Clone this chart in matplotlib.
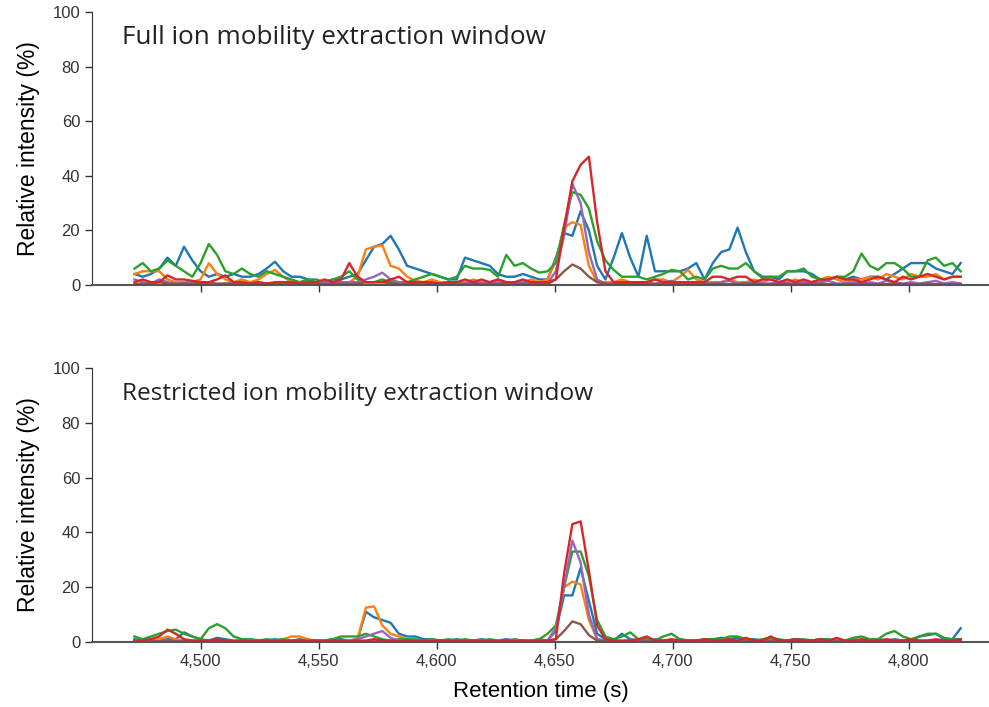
import numpy as np
import matplotlib
matplotlib.use('Agg')
import matplotlib.pyplot as plt

# retention time grid (s), one scan every 3.5 s
t = np.arange(4472, 4822.1, 3.5)

# ---- full ion mobility extraction window (top) ----
top_blue = [4, 3, 4, 6, 10, 7, 14, 9, 5, 3, 4, 3, 4, 3, 3, 4, 6, 8.5, 5, 3,
            3, 2, 1, 1, 2, 2, 3, 4, 9, 14, 15, 18, 13, 7, 6, 5, 4, 3, 2, 2,
            10, 9, 8, 7, 4, 3, 3, 4, 3, 2, 2, 10, 19, 18, 27, 20, 7, 2, 10, 19,
            10, 3, 18, 5, 5, 5, 5, 6, 8, 2, 8, 12, 13, 21, 12, 5, 3, 3, 2, 5,
            5, 5, 4, 2, 2, 3, 2, 3, 2, 3, 3, 2, 4, 6, 8, 8, 8, 6, 5, 4, 8]
top_orange = [4, 5, 5, 5, 2, 1, 1, 1, 2, 8, 4, 2, 1, 2, 1, 2, 4, 5.5, 3, 1,
              1, 1, 1, 0.5, 1, 1, 1, 3, 13, 14, 14.5, 7, 6, 3, 1.5, 1, 2, 1, 1, 1,
              1, 2, 1, 1, 2, 1, 1, 1, 2, 1, 2, 9, 21, 23, 22, 7, 1, 1, 1, 2,
              1, 1, 1, 2, 2, 1, 3, 5.5, 2, 1, 1, 1, 2, 1, 1, 2, 1, 2, 1, 1,
              2, 1, 1, 2, 3, 2, 1, 2, 2, 3, 2, 4, 3, 2, 4, 3, 3, 4, 2, 3, 3]
top_green = [6, 8, 5, 6, 9, 7, 5, 3, 8, 15, 11, 5, 4, 6, 4, 3, 5, 4, 3, 2,
             1, 2, 2, 1, 2, 3, 5, 2, 1, 1, 2, 1, 1, 1, 2, 3, 4, 3, 2, 3,
             7, 6, 6, 5.5, 3, 11, 7, 8, 6, 4.5, 5, 8, 22, 34, 33, 28, 16, 9, 5.5, 3,
             3, 3, 2, 3, 4, 5.5, 5, 2, 3, 2, 6, 7, 6, 6, 8, 5, 2.5, 3, 3, 5,
             5, 6, 3, 2, 2, 3, 3, 5, 11.5, 7, 5.5, 8, 8, 6, 3, 3, 9, 10, 7, 8, 5]
top_red = [1, 2, 1, 1, 3.5, 2, 2, 1.5, 1, 1, 2, 3.5, 1, 1, 0.5, 1, 0.5, 1, 1, 1,
           0.5, 1, 1, 2, 1, 2, 8, 3, 1, 1, 1, 2, 3, 1, 1, 1, 1, 0.5, 1, 1,
           2, 1, 2, 1, 2, 1, 1, 2, 1, 1, 1, 2, 21, 38, 44, 47, 23, 5, 1, 1,
           1, 1, 1, 2, 1, 1, 1, 1, 1, 1, 3, 3, 2, 3, 3, 1, 2, 2, 1, 2,
           1, 2, 1, 2, 2, 3, 2, 2, 1, 2, 3, 2, 1, 3, 2, 3, 4, 3, 2, 3, 3]
top_purple = [2, 1, 0.5, 2, 1, 0.5, 0.5, 1, 0.5, 1, 0.5, 0.5, 1, 0.5, 0.5, 1, 0.5, 0.5, 1, 0.5,
              0.5, 0.5, 0.5, 0.5, 1, 1, 1, 1, 2, 3, 4.5, 2, 1, 0.5, 0.5, 1, 0.5, 0.5, 1, 0.5,
              0.5, 1, 0.5, 0.5, 1, 0.5, 0.5, 1, 0.5, 0.5, 0.5, 5, 18, 37, 30, 12, 2, 0.5, 0.5, 1,
              0.5, 0.5, 1, 0.5, 1, 1.5, 0.5, 0.5, 1, 0.5, 0.5, 1, 1.5, 0.5, 0.5, 1, 0.5, 0.5, 1, 0.5,
              0.5, 1, 0.5, 1, 1.5, 0.5, 0.5, 1, 0.5, 1, 0.5, 1.5, 1, 0.5, 1, 0.5, 1, 1.5, 0.5, 1, 0.5]
top_brown = [0.5, 0.3, 0.5, 1, 0.5, 0.3, 0.5, 0.3, 0.5, 0.5, 0.3, 0.5, 0.3, 0.5, 0.3, 0.3, 0.5, 0.3, 0.3, 0.5,
             0.3, 0.3, 0.5, 0.3, 0.3, 0.5, 0.3, 0.5, 1, 1, 1, 0.5, 0.3, 0.3, 0.5, 0.3, 0.3, 0.3, 0.5, 0.3,
             0.3, 0.5, 0.3, 0.3, 0.3, 0.5, 0.3, 0.3, 0.3, 0.5, 0.3, 2, 5, 7.5, 6, 3, 1, 0.5, 0.3, 0.3,
             0.3, 0.5, 0.3, 0.3, 0.3, 0.5, 0.3, 0.3, 0.3, 0.3, 0.5, 0.3, 0.3, 0.3, 0.5, 0.3, 0.3, 0.3, 0.3, 0.5,
             0.3, 0.3, 0.3, 0.5, 0.3, 0.3, 0.3, 0.3, 0.5, 0.3, 0.3, 0.3, 0.5, 0.3, 0.3, 0.3, 0.5, 0.3, 0.3, 0.3, 0.3]

# ---- restricted ion mobility extraction window (bottom) ----
bot_blue = [1, 0.5, 1, 0.5, 1, 1, 3.5, 2, 1, 0.5, 1.5, 1, 0.5, 0.5, 1, 0.5, 0.5, 1, 0.5, 0.5,
            1, 0.5, 0.5, 0.5, 1, 1, 0.5, 1, 11, 9, 8, 7, 3, 2, 2, 1, 1, 0.5, 0.5, 1,
            0.5, 0.5, 1, 0.5, 0.5, 1, 0.5, 0.5, 0.5, 1, 0.5, 4, 17, 17, 27, 15, 3, 1, 0.5, 3,
            1, 0.5, 0.5, 1, 0.5, 0.5, 1, 0.5, 0.5, 0.5, 1, 1.5, 1, 1.5, 1, 1, 0.5, 1, 0.5, 0.5,
            1, 0.5, 0.5, 1, 0.5, 0.5, 0.5, 1, 0.5, 0.5, 1, 0.5, 1, 0.5, 0.5, 2, 2.5, 3, 1, 1, 5]
bot_orange = [0.5, 0.3, 0.5, 1, 2, 1, 0.5, 0.3, 0.5, 0.3, 0.5, 0.3, 0.3, 0.5, 0.3, 0.5, 0.3, 0.5, 1, 2,
              2, 1, 0.5, 0.3, 0.5, 0.3, 0.5, 1, 12.5, 13, 6, 3, 2, 1, 0.5, 0.5, 0.3, 0.5, 0.3, 0.5,
              0.3, 0.5, 0.3, 0.3, 0.5, 0.3, 0.5, 0.3, 0.3, 0.5, 0.3, 5, 20, 22, 21, 8, 1, 0.5, 0.5, 0.3,
              0.5, 1, 0.5, 0.3, 0.5, 0.3, 0.5, 0.3, 0.5, 0.3, 0.5, 0.3, 0.5, 0.3, 0.5, 0.5, 0.3, 0.5, 0.3, 0.5,
              0.3, 0.5, 0.3, 0.5, 0.3, 0.5, 0.3, 0.5, 0.3, 0.5, 0.3, 0.5, 0.3, 0.5, 0.3, 0.5, 0.3, 0.5, 0.3, 0.5, 0.5]
bot_green = [2, 1, 2, 3, 4, 4.5, 3, 2, 1, 5, 6.5, 5, 2, 1, 1, 0.5, 1, 0.5, 1, 0.5,
             0.5, 0.5, 0.5, 0.5, 1, 2, 2, 2, 3, 2, 1, 0.5, 1, 1, 1, 0.5, 1, 0.5, 1, 0.5,
             1, 0.5, 0.5, 1, 0.5, 0.5, 1, 0.5, 0.5, 1, 3, 6, 20, 33, 33, 24, 8, 2, 1, 2,
             3.5, 1, 1, 0.5, 2, 3, 1, 0.5, 0.5, 1, 1, 1, 2, 2, 1, 0.5, 1, 1.5, 1, 0.5,
             1, 1, 0.5, 1, 1, 0.5, 0.5, 1.5, 2, 1, 1, 3, 4, 2, 1, 2, 3, 3, 1.5, 1, 1]
bot_red = [0.5, 0.5, 1, 2, 4.5, 3, 1, 0.5, 0.5, 0.5, 1, 0.5, 0.3, 0.5, 0.3, 0.5, 0.5, 0.3, 0.5, 0.3,
           0.5, 0.3, 0.5, 0.3, 0.5, 0.5, 0.3, 0.5, 0.5, 1, 0.5, 0.5, 0.3, 0.5, 0.3, 0.5, 0.3, 0.5, 0.3, 0.5,
           0.3, 0.5, 0.3, 0.5, 0.3, 0.5, 0.3, 0.5, 0.3, 0.5, 0.5, 1, 25, 43, 44, 26, 6, 1, 0.5, 0.5,
           0.5, 1, 2, 0.5, 0.5, 1, 0.5, 0.5, 0.5, 1, 0.5, 0.5, 1, 0.5, 1.5, 0.5, 0.5, 2, 0.5, 0.5,
           1, 0.5, 0.5, 1, 0.5, 1.5, 0.5, 0.5, 1, 0.5, 0.5, 1, 0.5, 0.5, 1, 0.5, 0.5, 1, 0.5, 0.5, 1]
bot_purple = [0.3, 0.5, 0.3, 0.3, 0.5, 0.3, 0.3, 0.5, 0.3, 0.3, 0.5, 0.3, 0.3, 0.3, 0.5, 0.3, 0.3, 0.3, 0.5, 0.3,
              0.3, 0.3, 0.5, 0.3, 0.3, 0.5, 0.5, 1, 2, 3, 4, 1.5, 0.5, 0.3, 0.3, 0.5, 0.3, 0.3, 0.3, 0.5,
              0.3, 0.3, 0.5, 0.3, 0.3, 0.3, 0.5, 0.3, 0.3, 0.3, 0.5, 5, 20, 37, 29, 10, 1, 0.5, 0.3, 0.3,
              0.5, 0.3, 0.3, 0.3, 0.5, 0.3, 0.3, 0.3, 0.5, 0.3, 0.3, 0.3, 0.5, 0.3, 0.3, 0.3, 0.5, 0.3, 0.3, 0.3,
              0.5, 0.3, 0.3, 0.3, 0.5, 0.3, 0.3, 0.3, 0.5, 0.3, 0.3, 0.3, 0.5, 0.3, 0.3, 0.3, 0.5, 0.3, 0.3, 0.3, 0.3]
bot_brown = [0.2] * 51 + [1, 4, 7.5, 6.5, 2.5, 0.5] + [0.2] * 44

top_series = [top_blue, top_orange, top_green, top_purple, top_brown, top_red]
bot_series = [bot_blue, bot_orange, bot_green, bot_purple, bot_brown, bot_red]
colors = ["#1f77b4", "#ff7f0e", "#2ca02c", "#9467bd", "#8c564b", "#d62728"]

titles = ["Full ion mobility extraction window",
          "Restricted ion mobility extraction window"]
title_sizes = [18.8, 17.6]
xticks = [4500, 4550, 4600, 4650, 4700, 4750, 4800]
yticks = [0, 20, 40, 60, 80, 100]

plt.rcParams['font.family'] = ['Liberation Sans', 'DejaVu Sans']

fig = plt.figure(figsize=(9.89, 7.07), dpi=100)
ax1 = fig.add_axes([0.093, 0.597, 0.907, 0.386])
ax2 = fig.add_axes([0.093, 0.092, 0.907, 0.3875])

for ax, series, title, tsize in [(ax1, top_series, titles[0], title_sizes[0]),
                                 (ax2, bot_series, titles[1], title_sizes[1])]:
    for ys, c in zip(series, colors):
        ax.plot(t, ys, color=c, lw=1.7, solid_joinstyle='round')
    ax.set_xlim(4454, 4834)
    ax.set_ylim(0, 100)
    ax.set_xticks(xticks)
    ax.set_yticks(yticks)
    ax.spines['top'].set_visible(False)
    ax.spines['right'].set_visible(False)
    ax.spines['left'].set_color('#333333')
    ax.spines['bottom'].set_color('#555555')
    ax.spines['bottom'].set_linewidth(1.5)
    ax.tick_params(direction='out', length=5, width=1, colors='#333333', labelsize=12)
    ax.set_ylabel("Relative intensity (%)", fontsize=16.5, labelpad=9)
    ax.text(0.033, 0.905, title, transform=ax.transAxes, fontsize=tsize,
            family=['Open Sans', 'DejaVu Sans'], color='#222222', va='center')

ax1.tick_params(axis='x', labelbottom=False)
ax2.set_xticklabels([f"{v:,}" for v in xticks])
ax2.set_xlabel("Retention time (s)", fontsize=16, labelpad=9)

plt.savefig("out.png", dpi=100)
